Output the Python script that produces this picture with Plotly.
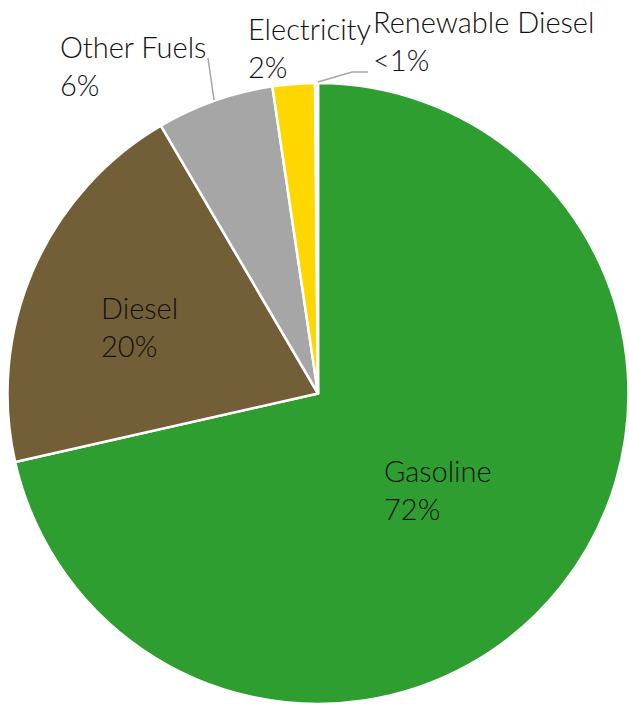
import plotly.graph_objects as go

W, H = 629, 704

categories = ["Gasoline", "Diesel", "Other Fuels", "Electricity", "Renewable Diesel"]
values = [71.5, 20.1, 6.1, 2.2, 0.15]
pct_labels = ["72%", "20%", "6%", "2%", "<1%"]
colors = ["#2e9e30", "#735f37", "#a6a6a6", "#ffd700", "#f3d9d9"]

# label anchor positions (pixels, top-left of text block)
label_pos = {
    "Gasoline": (382, 451),
    "Diesel": (99, 288),
    "Other Fuels": (58, 27),
    "Electricity": (246, 9),
    "Renewable Diesel": (371, 2),
}

fig = go.Figure(go.Pie(
    labels=categories,
    values=values,
    sort=False,
    direction="clockwise",
    rotation=0,
    marker=dict(colors=colors, line=dict(color="white", width=2.5)),
    textinfo="none",
    hoverinfo="label+percent",
    showlegend=False,
    domain=dict(x=[7/W, 1.0], y=[0.0, 621/H]),
))

def px(x):
    return x / W

def py(y):
    return 1 - y / H

for cat, pct in zip(categories, pct_labels):
    x, y = label_pos[cat]
    fig.add_annotation(
        x=px(x), y=py(y), xref="paper", yref="paper",
        xanchor="left", yanchor="top", align="left",
        text=f"{cat}<br>{pct}", showarrow=False,
        font=dict(family="Lato", size=29, color="#111111", weight=300),
    )

# leader lines
fig.add_shape(type="line", xref="paper", yref="paper",
              x0=px(208), y0=py(58), x1=px(214), y1=py(100),
              line=dict(color="#a6a6a6", width=1.5))
fig.add_shape(type="path", xref="paper", yref="paper",
              path=f"M {px(318)},{py(82)} L {px(352)},{py(72)} L {px(368)},{py(72)}",
              line=dict(color="#a6a6a6", width=1.5))

fig.update_layout(
    width=W, height=H,
    margin=dict(l=0, r=0, t=0, b=0),
    paper_bgcolor="white",
    plot_bgcolor="white",
)

fig.write_html("out.html")
